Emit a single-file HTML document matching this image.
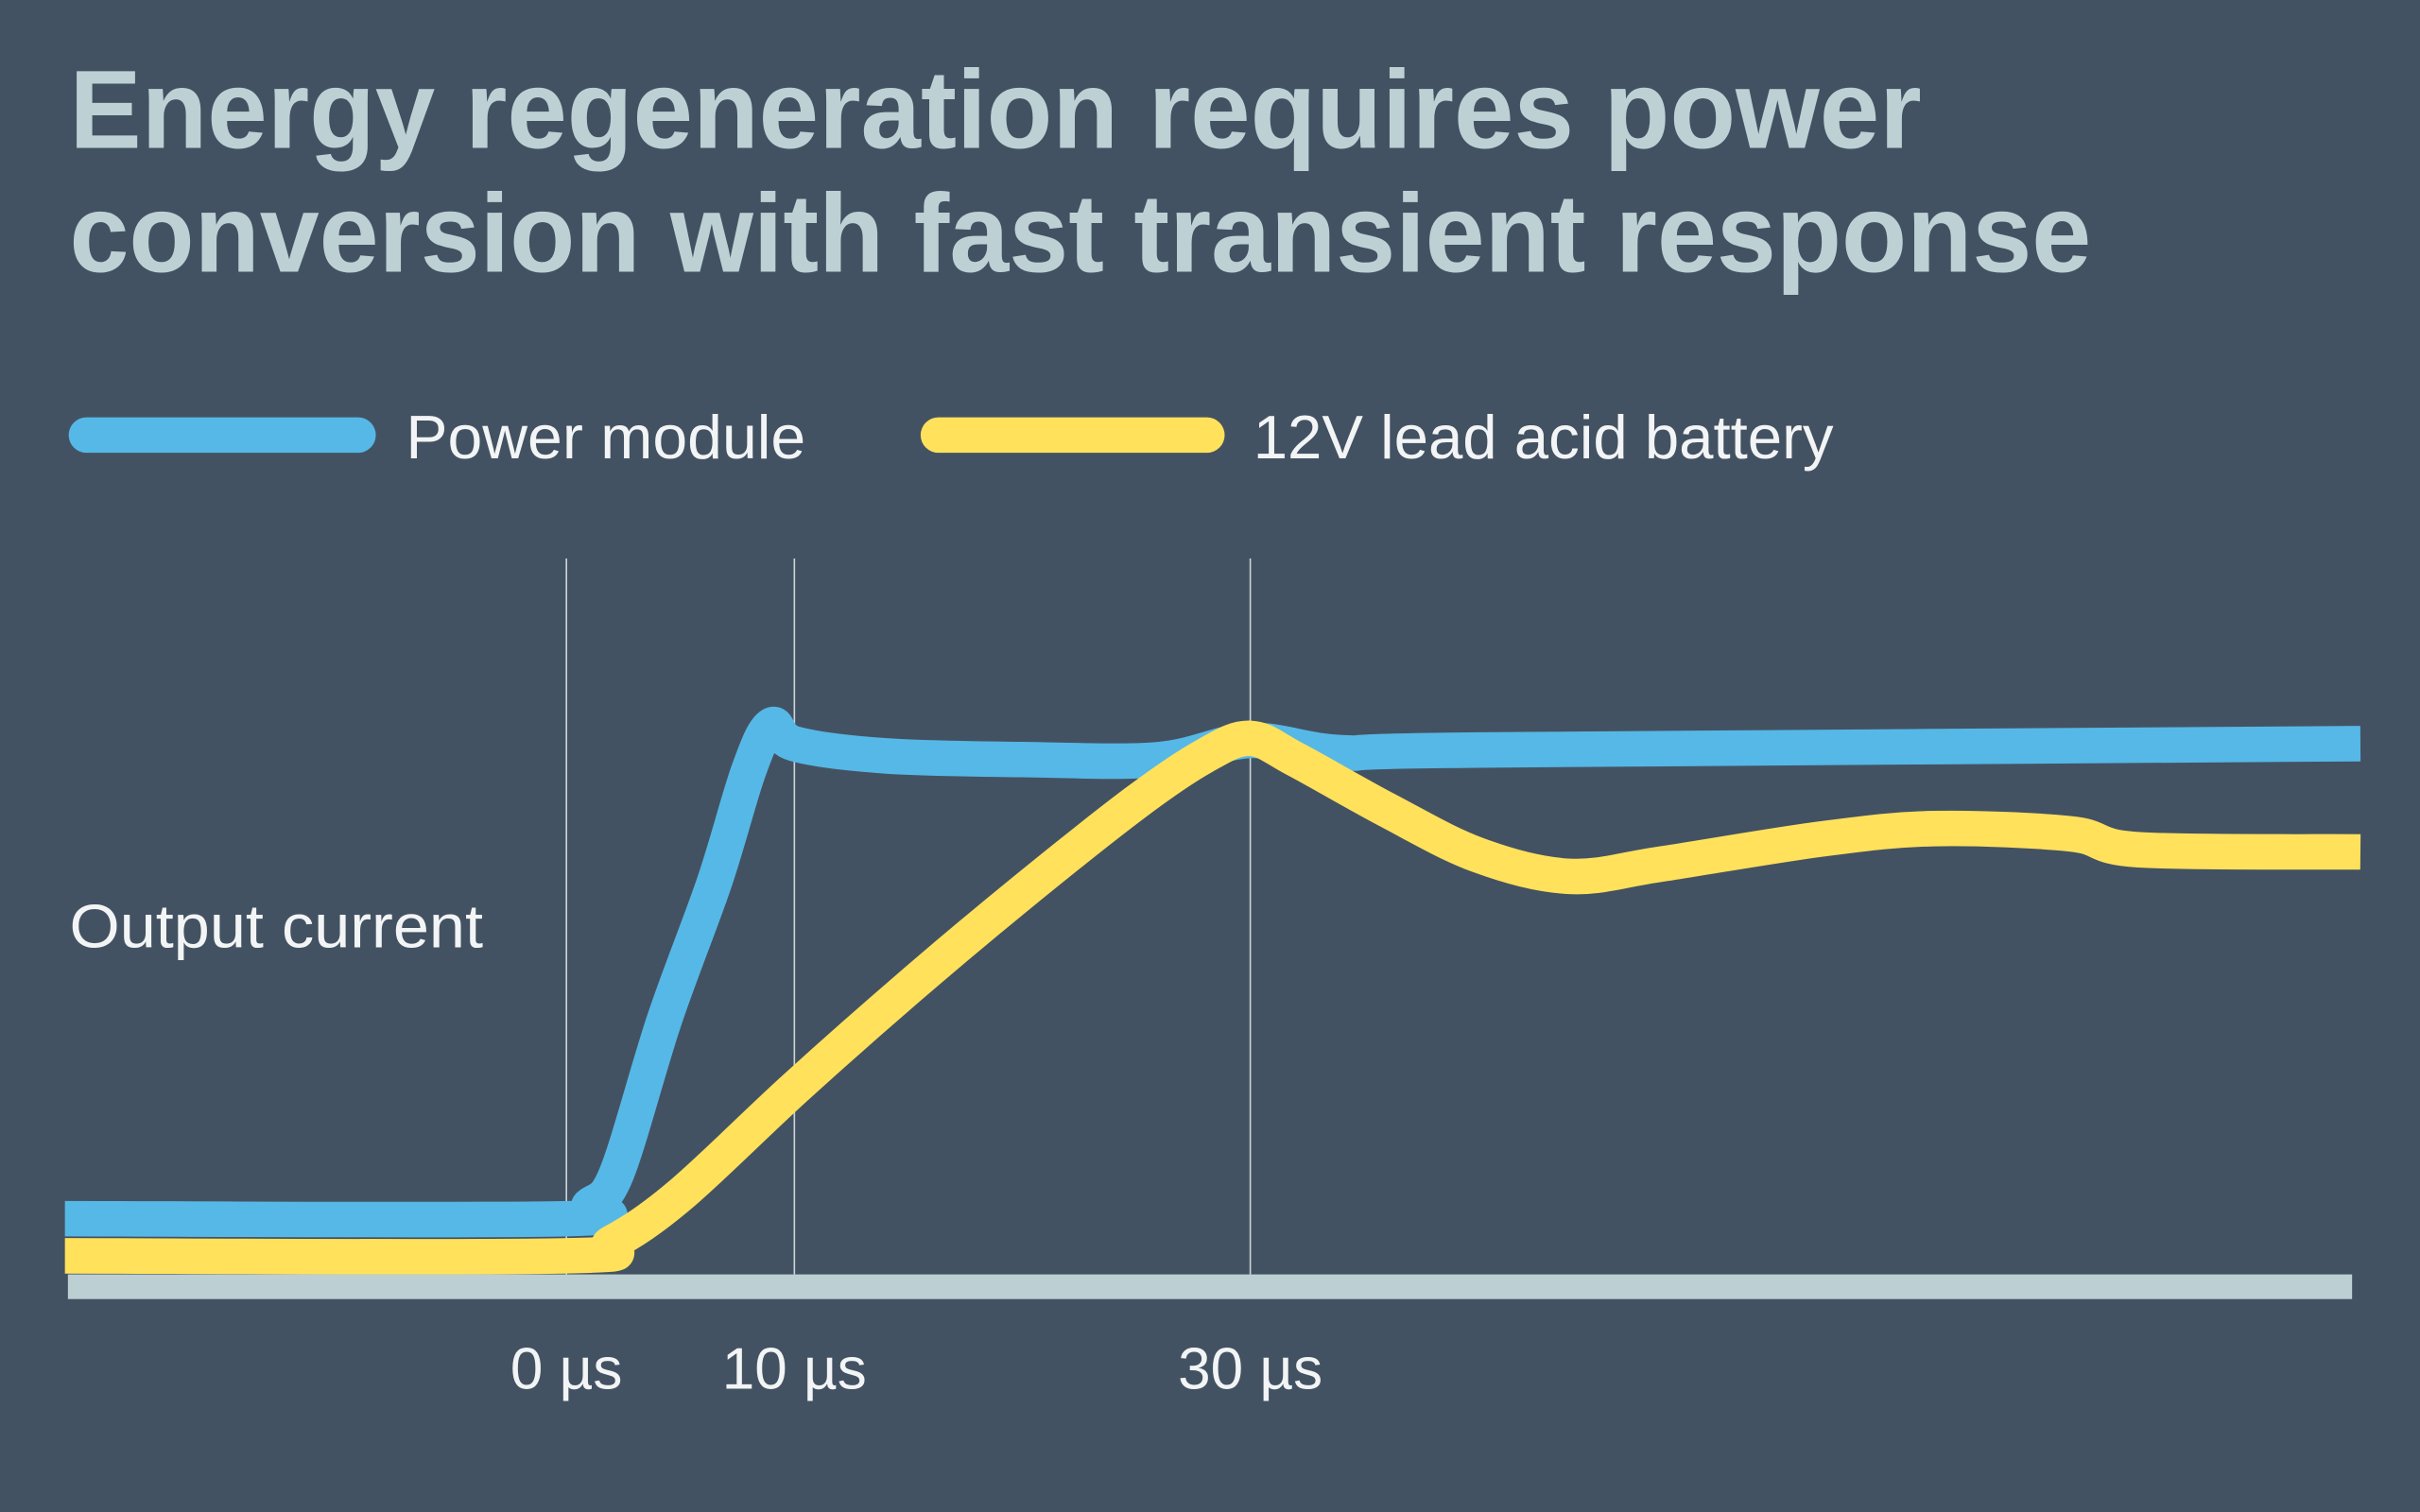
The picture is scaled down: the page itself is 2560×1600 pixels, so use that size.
<!DOCTYPE html>
<html><head><meta charset="utf-8"><style>
html,body{margin:0;padding:0;background:#435262;}
svg{display:block;}
text{font-family:"Liberation Sans",sans-serif;}
</style></head><body>
<svg id="chart" width="2560" height="1600" viewBox="0 0 1568 980" xmlns="http://www.w3.org/2000/svg">
<rect width="1568" height="980" fill="#435262"/>
<g fill="#bdd1d5" font-weight="bold" font-size="72">
<text x="45" y="96" textLength="1200" lengthAdjust="spacingAndGlyphs">Energy regeneration requires power</text>
<text x="45" y="176" textLength="1310" lengthAdjust="spacingAndGlyphs">conversion with fast transient response</text>
</g>
<g>
<line x1="56" y1="282" x2="232" y2="282" stroke="#56b8e6" stroke-width="23" stroke-linecap="round"/>
<text x="263" y="297" font-size="40" fill="#f2f4f5" textLength="259" lengthAdjust="spacingAndGlyphs">Power module</text>
<line x1="608" y1="282" x2="782" y2="282" stroke="#ffe15c" stroke-width="23" stroke-linecap="round"/>
<text x="812" y="297" font-size="40" fill="#f2f4f5" textLength="376" lengthAdjust="spacingAndGlyphs">12V lead acid battery</text>
</g>
<text x="45" y="614" font-size="40" fill="#f2f4f5" textLength="268" lengthAdjust="spacingAndGlyphs">Output current</text>
<g id="grid"></g>
<g id="series"></g>
<rect x="44" y="826" width="1480" height="16" fill="#bccfd3"/>
<g id="ticks"></g>
</svg>
<script>
const tickValues = [0, 10, 30];
const tickLabels = ["0 µs", "10 µs", "30 µs"];
const blueT = [-22, 0, 1, 2.2, 4.3, 6.5, 8, 9, 10, 14, 20, 26, 30, 34, 40, 78.7];
const blueV = [10.5, 10.5, 13, 19, 48, 74, 95, 103.5, 100, 97.7, 97, 97, 100.6, 98.3, 98.8, 100];
const yellowT = [-22, 0, 2, 5, 10, 15, 20, 25, 28, 30, 32, 36, 40, 44, 48, 55, 60, 66, 69, 78.7];
const yellowV = [3.5, 3.5, 6, 15, 35, 54, 72, 89, 97.7, 101, 97, 87.5, 79, 75, 77.3, 82, 84, 83, 80, 79.6];

const NS = "http://www.w3.org/2000/svg";
function xs(t){ return 367 + t * 14.77; }
function ys(v){ return 826 - v * 3.44; }
function smoothPath(T, V){
  const p = T.map((t,i)=>[xs(t), ys(V[i])]);
  let d = "M" + p[0][0] + "," + p[0][1];
  for (let i=0;i<p.length-1;i++){
    const p0 = p[Math.max(0,i-1)], p1 = p[i], p2 = p[i+1], p3 = p[Math.min(p.length-1,i+2)];
    const k = 1/6;
    const c1 = [p1[0]+(p2[0]-p0[0])*k, p1[1]+(p2[1]-p0[1])*k];
    const c2 = [p2[0]-(p3[0]-p1[0])*k, p2[1]-(p3[1]-p1[1])*k];
    d += " C" + c1[0] + "," + c1[1] + " " + c2[0] + "," + c2[1] + " " + p2[0] + "," + p2[1];
  }
  return d;
}
const grid = document.getElementById("grid");
const ticks = document.getElementById("ticks");
tickValues.forEach((t,i)=>{
  const l = document.createElementNS(NS,"line");
  
  
  l.setAttribute("x1", xs(t)); l.setAttribute("x2", xs(t));
  l.setAttribute("y1", 362); l.setAttribute("y2", 826);
  l.setAttribute("stroke", "#c9d3d8"); l.setAttribute("stroke-width", "1");
  grid.appendChild(l);
  const tx = document.createElementNS(NS,"text");
  
  
  tx.setAttribute("x", xs(t)); tx.setAttribute("y", 900);
  tx.setAttribute("text-anchor", "middle"); tx.setAttribute("font-size", "38");
  tx.setAttribute("fill", "#f2f4f5");
  tx.textContent = tickLabels[i];
  ticks.appendChild(tx);
});
const series = document.getElementById("series");
const py = document.createElementNS(NS,"path");


py.setAttribute("d", smoothPath(yellowT, yellowV));
py.setAttribute("fill","none"); py.setAttribute("stroke","#ffe15c"); py.setAttribute("stroke-width","23");
const pb = document.createElementNS(NS,"path");


pb.setAttribute("d", smoothPath(blueT, blueV));
pb.setAttribute("fill","none"); pb.setAttribute("stroke","#56b8e6"); pb.setAttribute("stroke-width","23");
series.appendChild(pb);
series.appendChild(py);
</script>
</body></html>
